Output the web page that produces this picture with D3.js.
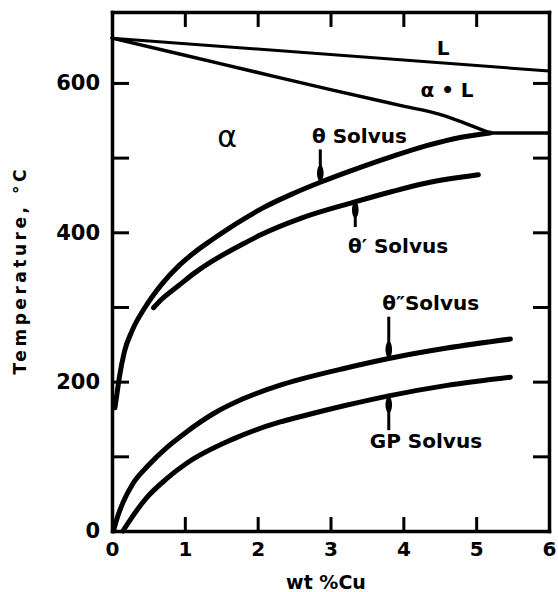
<!DOCTYPE html>
<html>
<head>
<meta charset="utf-8">
<script src="https://cdn.jsdelivr.net/npm/d3@7"></script>
<style>
html, body { margin: 0; padding: 0; background: #fff; }
svg { display: block; font-family: "DejaVu Sans", sans-serif; font-weight: bold; }
</style>
</head>
<body>
<div id="chart"></div>
<script>
const width = 558;
const height = 592;
const margin = {top: 12, right: 9, bottom: 61, left: 112};

// axis ticks
const xTicks = [0, 1, 2, 3, 4, 5, 6];
const yTicks = [0, 100, 200, 300, 400, 500, 600];
const yMax = 695;

// phase boundaries: wt % Cu and temperature (°C)
const liquidusCu = [0, 6];
const liquidusT = [660, 616];
const solidusCu = [0, 1, 2, 3, 4, 4.5, 4.85, 5.19];
const solidusT = [660, 637, 614, 591, 569, 558, 546, 533];
const eutecticCu = [5.19, 6];
const eutecticT = [533, 533];
const thetaCu = [0.04, 0.07, 0.1, 0.17, 0.275, 0.457, 0.687, 0.916, 1.144, 1.373, 1.6, 1.83, 2.06, 2.49, 2.86, 3.41, 3.86, 4.32, 4.78, 5.19];
const thetaT = [165, 185, 205, 240, 268, 300, 331, 355, 374, 390, 405, 419, 432, 452, 467, 487, 502, 516, 527, 533];
const thetaPCu = [0.57, 0.69, 0.92, 1.14, 1.37, 1.6, 1.83, 2.05, 2.6, 3.31, 3.86, 4.32, 5.03];
const thetaPT = [299, 311, 329, 346, 361, 374, 386, 397, 419, 440, 455, 466, 477];
const thetaPPCu = [0.02, 0.08, 0.15, 0.29, 0.5, 0.755, 1.0, 1.39, 1.8, 2.3, 2.58, 3.2, 3.8, 4.6, 5.47];
const thetaPPT = [0, 20, 38, 64, 88, 112, 131, 157, 177, 195, 203, 218, 231, 245, 257];
const gpCu = [0.15, 0.25, 0.48, 0.75, 1.03, 1.66, 2.31, 2.58, 3.2, 3.8, 4.6, 5.47];
const gpT = [0, 15, 45, 70, 91, 123, 146, 153, 168, 181, 195, 206];

// arrows from label to curve
const arrowCu = [2.86, 3.34, 3.80, 3.80];
const arrowFromT = [511, 407, 287, 135];
const arrowToT = [467, 442, 231, 181];

// region / curve labels
const labelText = ['L', 'α • L', 'α', 'θ Solvus', 'θ′ Solvus', 'θ″Solvus', 'GP Solvus'];
const labelCu = [4.545, 4.60, 1.58, 2.746, 3.24, 3.71, 3.54];
const labelT = [637, 581, 514, 520, 372, 296, 111];

const svg = d3.select('#chart')
    .append('svg')
    .attr('width', width)
    .attr('height', height);

const x = d3.scaleLinear()
    .domain([0, 6])
    .range([margin.left, width - margin.right]);

const y = d3.scaleLinear()
    .domain([0, yMax])
    .range([height - margin.bottom, margin.top]);

// frame: bottom + left with labels, top + right ticks only
function bottomAxis(g){
    g.attr('transform', `translate(0, ${y(0)})`)
        .call(d3.axisBottom(x).tickValues(xTicks).tickSize(-14).tickSizeOuter(0).tickPadding(11).tickFormat(d3.format('d')))
        .attr('font-size', 20)
        .attr('font-family', null);
}
function leftAxis(g){
    g.attr('transform', `translate(${x(0)}, 0)`)
        .call(d3.axisLeft(y).tickValues(yTicks).tickSize(-17).tickSizeOuter(0).tickPadding(12)
            .tickFormat(d => d % 200 === 0 ? d : ''))
        .attr('font-size', 21)
        .attr('font-family', null);
}
function topAxis(g){
    g.attr('transform', `translate(0, ${y(yMax)})`)
        .call(d3.axisTop(x).tickValues(xTicks.slice(1, -1)).tickSize(-15).tickSizeOuter(0).tickFormat(''));
}
function rightAxis(g){
    g.attr('transform', `translate(${x(6)}, 0)`)
        .call(d3.axisRight(y).tickValues(yTicks.slice(1)).tickSize(-16).tickSizeOuter(0).tickFormat(''));
}
[bottomAxis, leftAxis, topAxis, rightAxis].forEach(f => {
    const g = svg.append('g').call(f);
    g.select('.domain').attr('stroke', '#000').attr('stroke-width', 3.5).attr('stroke-linecap', 'square');
    g.selectAll('.tick line').attr('stroke', '#000').attr('stroke-width', 3);
    g.selectAll('.tick text').attr('fill', '#000');
});

// curves
const line = d3.line()
    .x(d => x(d[0]))
    .y(d => y(d[1]))
    .curve(d3.curveMonotoneX);

const curves = [
    {cu: liquidusCu, t: liquidusT, w: 3},
    {cu: solidusCu, t: solidusT, w: 3.5},
    {cu: eutecticCu, t: eutecticT, w: 3.5},
    {cu: thetaCu, t: thetaT, w: 5},
    {cu: thetaPCu, t: thetaPT, w: 5},
    {cu: thetaPPCu, t: thetaPPT, w: 5},
    {cu: gpCu, t: gpT, w: 5}
];

svg.append('g')
    .selectAll('path')
    .data(curves)
    .enter()
    .append('path')
        .attr('d', d => line(d3.zip(d.cu, d.t)))
        .attr('fill', 'none')
        .attr('stroke', '#000')
        .attr('stroke-width', d => d.w)
        .attr('stroke-linecap', 'round')
        .attr('stroke-linejoin', 'round');

// arrows
const arrows = svg.append('g')
    .selectAll('g')
    .data(d3.range(arrowCu.length))
    .enter()
    .append('g');

arrows.append('line')
    .attr('x1', i => x(arrowCu[i]))
    .attr('x2', i => x(arrowCu[i]))
    .attr('y1', i => y(arrowFromT[i]))
    .attr('y2', i => y(arrowToT[i]))
    .attr('stroke', '#000')
    .attr('stroke-width', 3);

arrows.append('ellipse')
    .attr('cx', i => x(arrowCu[i]))
    .attr('cy', i => {
        const dir = y(arrowToT[i]) > y(arrowFromT[i]) ? -1 : 1;
        return y(arrowToT[i]) + dir * 9;
    })
    .attr('rx', 3.3)
    .attr('ry', 8)
    .attr('fill', '#000');

// labels
svg.append('g')
    .selectAll('text')
    .data(d3.range(labelText.length))
    .enter()
    .append('text')
        .attr('x', i => x(labelCu[i]))
        .attr('y', i => y(labelT[i]))
        .attr('text-anchor', i => i < 3 ? 'middle' : 'start')
        .attr('font-size', i => i === 2 ? 30 : 20)
        .attr('font-weight', i => i === 2 ? 'normal' : 'bold')
        .text(i => labelText[i]);

// axis titles
svg.append('text')
    .attr('transform', `translate(20, 272) rotate(-90)`)
    .attr('text-anchor', 'middle')
    .attr('dy', '0.35em')
    .attr('font-size', 17)
    .attr('textLength', 205)
    .attr('lengthAdjust', 'spacing')
    .text('Temperature, °C');

svg.append('text')
    .attr('x', 326)
    .attr('y', 589)
    .attr('text-anchor', 'middle')
    .attr('font-size', 19)
    .text('wt %Cu');
</script>
</body>
</html>
